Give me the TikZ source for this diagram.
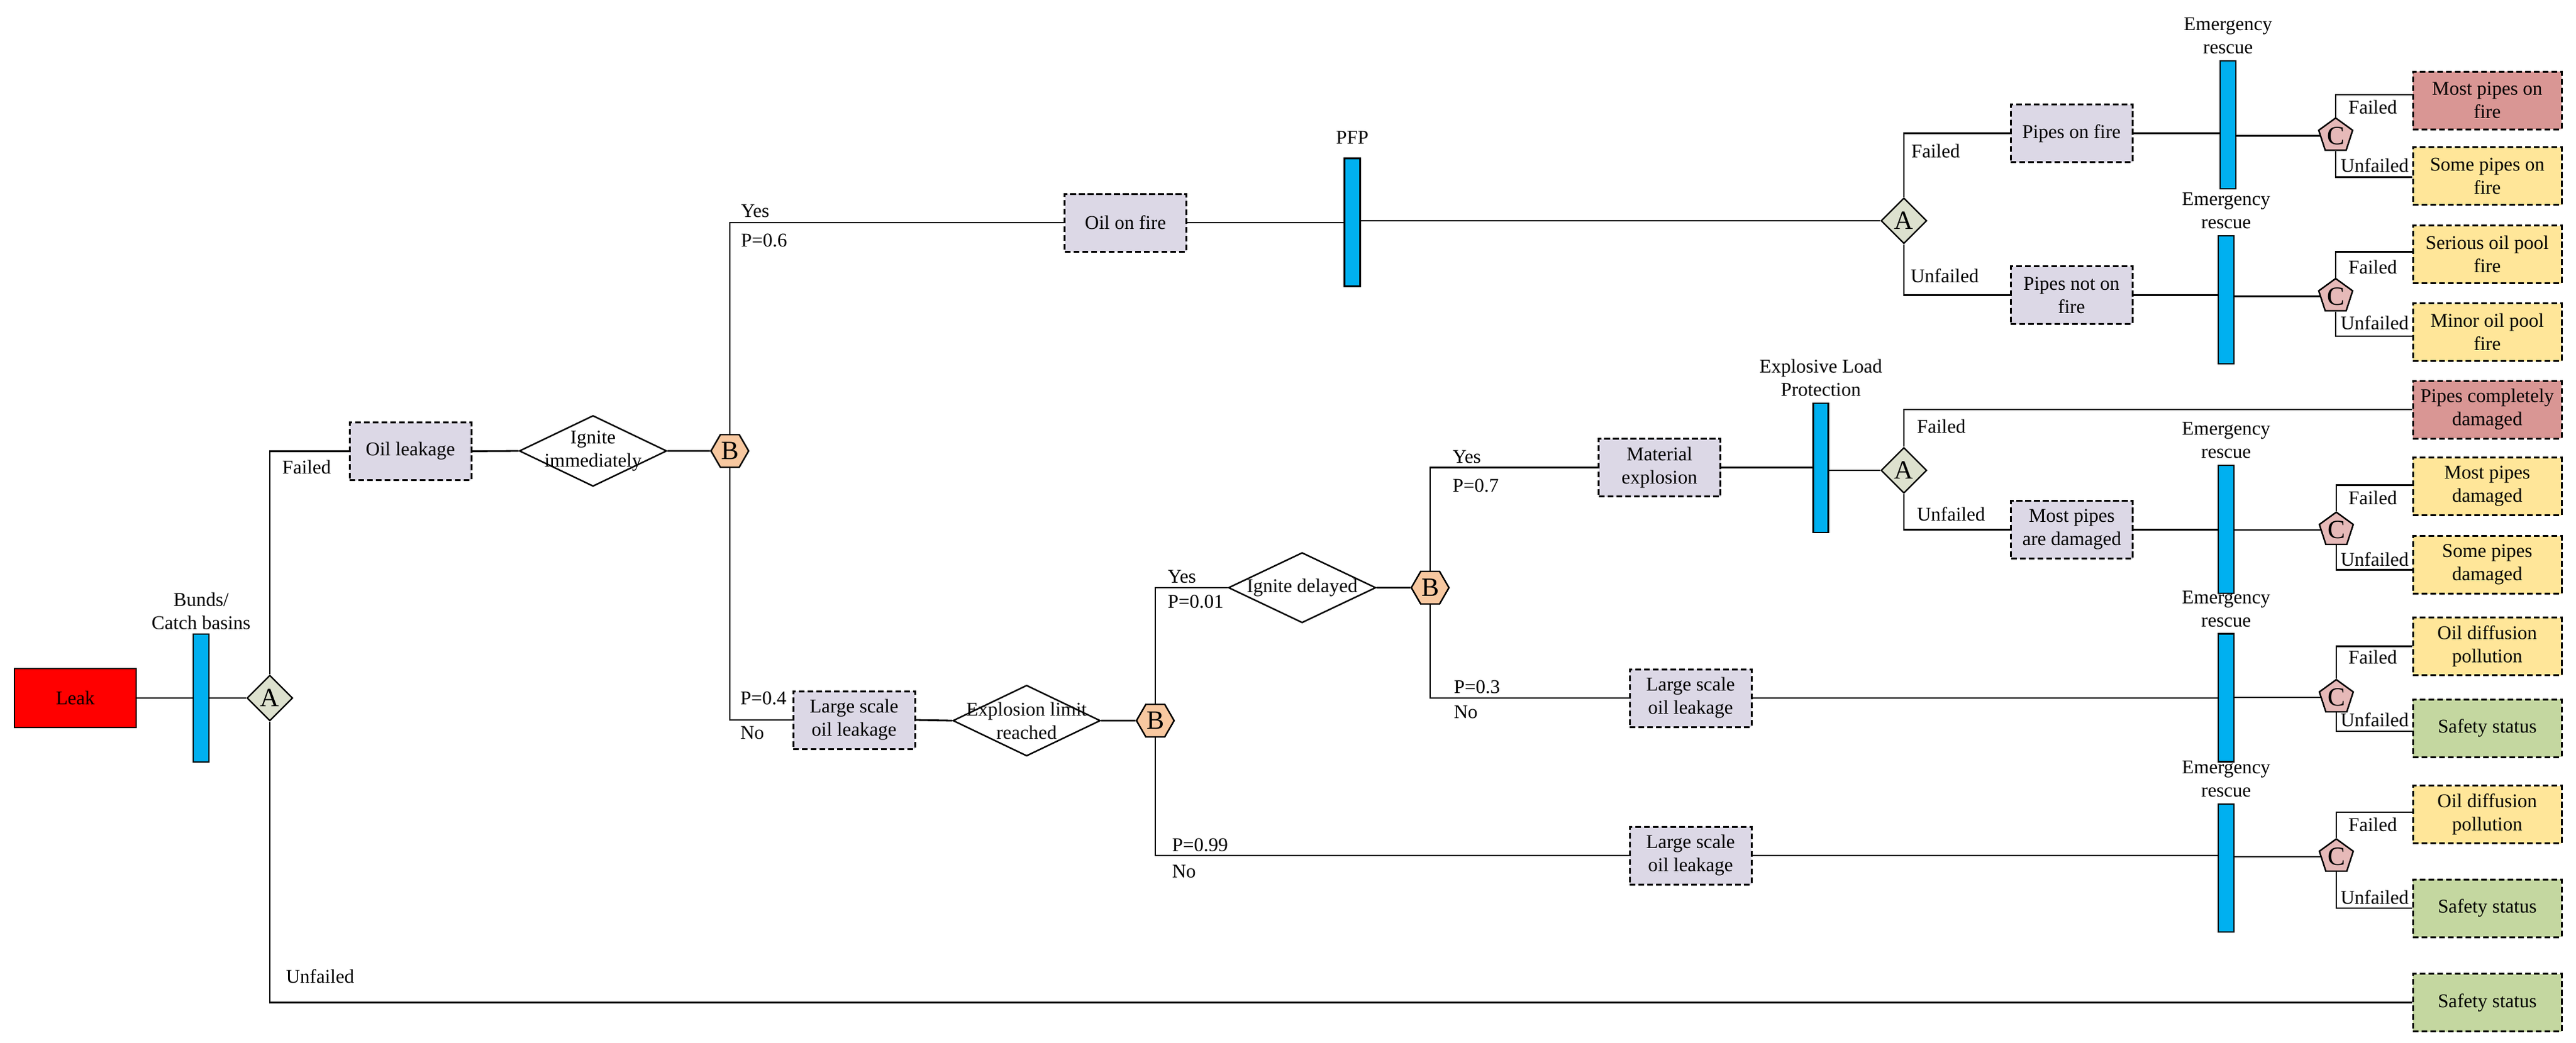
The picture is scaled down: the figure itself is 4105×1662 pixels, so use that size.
\documentclass[tikz,border=0pt]{standalone}
\usepackage{fontspec}
\setmainfont{Liberation Serif}
\usetikzlibrary{shapes.geometric,calc}

\definecolor{leakred}{HTML}{FF0000}
\definecolor{barblue}{HTML}{00B0F0}
\definecolor{procfill}{HTML}{DCD8E6}
\definecolor{afill}{HTML}{DDE1CE}
\definecolor{bfill}{HTML}{F8C8A0}
\definecolor{cfill}{HTML}{E6B9B8}
\definecolor{endred}{HTML}{D99694}
\definecolor{endyellow}{HTML}{FFE699}
\definecolor{endgreen}{HTML}{C4D7A0}

\begin{document}
\begin{tikzpicture}[x=0.25pt,y=-0.25pt,
  every node/.style={font=\fontsize{7.75}{9.25}\selectfont, align=center},
  conn/.style={line width=0.7pt},
  leakbox/.style={rectangle, draw, fill=leakred, line width=0.7pt, minimum width=48.5pt, minimum height=23.5pt, inner sep=0pt},
  proc/.style={rectangle, draw, fill=procfill, dash pattern=on 2.3pt off 1.2pt, line width=0.75pt, minimum width=48.5pt, minimum height=23pt, inner sep=0pt},
  endbox/.style={rectangle, draw, dash pattern=on 2.3pt off 1.2pt, line width=0.75pt, minimum width=59.25pt, minimum height=23pt, inner sep=0pt},
  endR/.style={endbox, fill=endred},
  endY/.style={endbox, fill=endyellow},
  endG/.style={endbox, fill=endgreen},
  barrier/.style={rectangle, draw, fill=barblue, line width=0.7pt, minimum width=6.25pt, minimum height=51pt, inner sep=0pt},
  gateA/.style={diamond, draw, fill=afill, line width=0.6pt, minimum width=18.25pt, minimum height=18.25pt, inner sep=0pt, font=\fontsize{10.5}{12}\selectfont},
  gateB/.style={regular polygon, regular polygon sides=6, draw, fill=bfill, line width=0.6pt, minimum size=15pt, inner sep=0pt, font=\fontsize{10.5}{12}\selectfont},
  gateC/.style={regular polygon, regular polygon sides=5, draw, fill=cfill, line width=0.6pt, minimum size=14.2pt, inner sep=0pt, font=\fontsize{10.5}{12}\selectfont},
  question/.style={diamond, draw, fill=white, line width=0.6pt, minimum width=58.75pt, minimum height=28.25pt, inner sep=0pt},
  barlabel/.style={anchor=south, inner sep=0pt, yshift=2.25pt},
  lbl/.style={anchor=west, inner sep=0pt},
  clbl/.style={anchor=center, inner sep=0pt}
]
\useasboundingbox (0,0) rectangle (4105,1662);

% ---------- nodes ----------
\node[leakbox] (leak) at (120,1113) {Leak};
\node[barrier] (bunds) at (320.5,1113) {};
\node[gateA] (a1) at (430,1113) {A};
\node[proc] (oilleak) at (654,719.5) {Oil leakage};
\node[question] (ig1) at (945,719) {};
\node at (ig1) {Ignite\\immediately};
\node[gateB] (b1) at (1163,719) {B};

\node[proc] (oilfire) at (1793.5,355) {Oil on fire};
\node[barrier] (pfp) at (2155,354.5) {};
\node[gateA] (a2) at (3034,352) {A};
\node[proc] (pipesfire) at (3301,212.5) {Pipes on fire};
\node[proc] (pipesnot) at (3301,470.5) {Pipes not on\\fire};
\node[barrier] (em1) at (3550.5,199) {};
\node[barrier] (em2) at (3547.5,478) {};
\node[gateC] (c1) at (3722,216.5) {C};
\node[gateC] (c2) at (3722,472.5) {C};
\node[endR] (mostfire) at (3963.5,160) {Most pipes on\\fire};
\node[endY] (somefire) at (3963.5,280.5) {Some pipes on\\fire};
\node[endY] (serious) at (3963.5,405.5) {Serious oil pool\\fire};
\node[endY] (minor) at (3963.5,529.5) {Minor oil pool\\fire};

\node[proc] (large1) at (1361,1148) {Large scale\\oil leakage};
\node[question] (explim) at (1636,1149) {};
\node at (explim) {Explosion limit\\reached};
\node[gateB] (b2) at (1841,1149) {B};
\node[question, minimum height=28pt] (ig2) at (2075,937) {};
\node at (ig2) {Ignite delayed};
\node[gateB] (b3) at (2279,937) {B};

\node[proc] (matexp) at (2644.5,745.5) {Material\\explosion};
\node[barrier, minimum height=51.5pt, minimum width=6pt] (elp) at (2901.5,746) {};
\node[gateA] (a3) at (3034,750) {A};
\node[endR] (pcd) at (3963.5,653) {Pipes completely\\damaged};
\node[proc] (mostdam) at (3301.5,844.5) {Most pipes\\are damaged};
\node[barrier] (em3) at (3547.5,844) {};
\node[gateC] (c3) at (3723,845) {C};
\node[endY] (mpd) at (3963.5,775.5) {Most pipes\\damaged};
\node[endY] (spd) at (3963.5,900.5) {Some pipes\\damaged};

\node[proc] (large2) at (2694,1113) {Large scale\\oil leakage};
\node[barrier] (em4) at (3547.5,1112.5) {};
\node[gateC] (c4) at (3723,1112) {C};
\node[endY] (od1) at (3963.5,1030.5) {Oil diffusion\\pollution};
\node[endG] (safe1) at (3963.5,1161) {Safety status};

\node[proc] (large3) at (2694,1364) {Large scale\\oil leakage};
\node[barrier] (em5) at (3547.5,1384) {};
\node[gateC] (c5) at (3723,1366) {C};
\node[endY] (od2) at (3963.5,1298.5) {Oil diffusion\\pollution};
\node[endG] (safe2) at (3963.5,1448) {Safety status};

\node[endG] (safe3) at (3963.5,1598.5) {Safety status};

% ---------- barrier labels ----------
\node[barlabel, yshift=-1pt] at (bunds.north) {Bunds/\\Catch basins};
\node[anchor=south, inner sep=0pt, yshift=5.25pt] at (pfp.north) {PFP};
\node[barlabel] at (elp.north) {Explosive Load\\Protection};
\node[barlabel] at (em1.north) {Emergency\\rescue};
\node[barlabel] at (em2.north) {Emergency\\rescue};
\node[barlabel] at (em3.north) {Emergency\\rescue};
\node[barlabel] at (em4.north) {Emergency\\rescue};
\node[barlabel] at (em5.north) {Emergency\\rescue};

% ---------- connectors ----------
\draw[conn] (leak.east) -- (bunds.west);
\draw[conn] (bunds.east) -- (a1.west);
\draw[conn] (a1.north) |- (oilleak.west);
\draw[conn] (a1.south) |- (safe3.west);
\draw[conn] (oilleak.east) -- (ig1.west);
\draw[conn] (ig1.east) -- (b1.west);
\draw[conn] (b1.north) |- (oilfire.west);
\draw[conn] (b1.south) |- (large1.west);

\draw[conn] (oilfire.east) -- (oilfire.east -| pfp.west);
\draw[conn] (pfp.east |- a2.west) -- (a2.west);
\draw[conn] (a2.north) |- (pipesfire.west);
\draw[conn] (a2.south) |- (pipesnot.west);
\draw[conn] (pipesfire.east) -- (pipesfire.east -| em1.west);
\draw[conn] (em1.east |- c1.west) -- (c1.west);
\draw[conn] (c1.north) |- ([yshift=2.25pt]mostfire.west);
\draw[conn] (c1.south) |- ([yshift=-0.4pt]somefire.west);
\draw[conn] (pipesnot.east) -- (pipesnot.east -| em2.west);
\draw[conn] (em2.east |- c2.west) -- (c2.west);
\draw[conn] (c2.north) |- ([yshift=1.1pt]serious.west);
\draw[conn] (c2.south) |- ([yshift=-1.6pt]minor.west);

\draw[conn] (large1.east) -- (explim.west);
\draw[conn] (explim.east) -- (b2.west);
\draw[conn] (b2.north) |- (ig2.west);
\draw[conn] (b2.south) |- (large3.west);
\draw[conn] (ig2.east) -- (b3.west);
\draw[conn] (b3.north) |- (matexp.west);
\draw[conn] (b3.south) |- (large2.west);

\draw[conn] (matexp.east) -- (matexp.east -| elp.west);
\draw[conn] (elp.east |- a3.west) -- (a3.west);
\draw[conn] (a3.north) |- (pcd.west);
\draw[conn] (a3.south) |- (mostdam.west);
\draw[conn] (mostdam.east) -- (mostdam.east -| em3.west);
\draw[conn] (em3.east |- c3.west) -- (c3.west);
\draw[conn] (c3.north) |- ([yshift=0.6pt]mpd.west);
\draw[conn] (c3.south) |- ([yshift=-1.9pt]spd.west);

\draw[conn] (large2.east) -- (large2.east -| em4.west);
\draw[conn] (em4.east |- c4.west) -- (c4.west);
\draw[conn] (c4.north) |- (od1.west);
\draw[conn] (c4.south) |- ([yshift=-1.25pt]safe1.west);

\draw[conn] (large3.east) -- (large3.east -| em5.west);
\draw[conn] (em5.east |- c5.west) -- (c5.west);
\draw[conn] (c5.north) |- ([yshift=0.9pt]od2.west);
\draw[conn] (c5.south) |- (safe2.west);

% ---------- branch labels ----------
\node[lbl] at (449,745) {Failed};
\node[lbl] at (455,1557) {Unfailed};
\node[lbl] at (1180,336) {Yes};
\node[lbl] at (1180,383) {P=0.6};
\node[lbl] at (1179,1113) {P=0.4};
\node[lbl] at (1179,1168) {No};
\node[lbl] at (1860,919) {Yes};
\node[lbl] at (1860,959) {P=0.01};
\node[lbl] at (1867,1347) {P=0.99};
\node[lbl] at (1867,1389) {No};
\node[lbl] at (2314,728) {Yes};
\node[lbl] at (2314,774) {P=0.7};
\node[lbl] at (2316,1095) {P=0.3};
\node[lbl] at (2316,1135) {No};
\node[lbl] at (3045,241) {Failed};
\node[lbl] at (3044,440) {Unfailed};
\node[lbl] at (3054,680) {Failed};
\node[lbl] at (3054,820) {Unfailed};

\node[clbl] at (3781,171) {Failed};
\node[clbl] at (3784,264) {Unfailed};
\node[clbl] at (3781,426) {Failed};
\node[clbl] at (3784,515) {Unfailed};
\node[clbl] at (3781,794) {Failed};
\node[clbl] at (3784,892) {Unfailed};
\node[clbl] at (3781,1048) {Failed};
\node[clbl] at (3784,1148) {Unfailed};
\node[clbl] at (3781,1315) {Failed};
\node[clbl] at (3784,1431) {Unfailed};
\end{tikzpicture}
\end{document}
